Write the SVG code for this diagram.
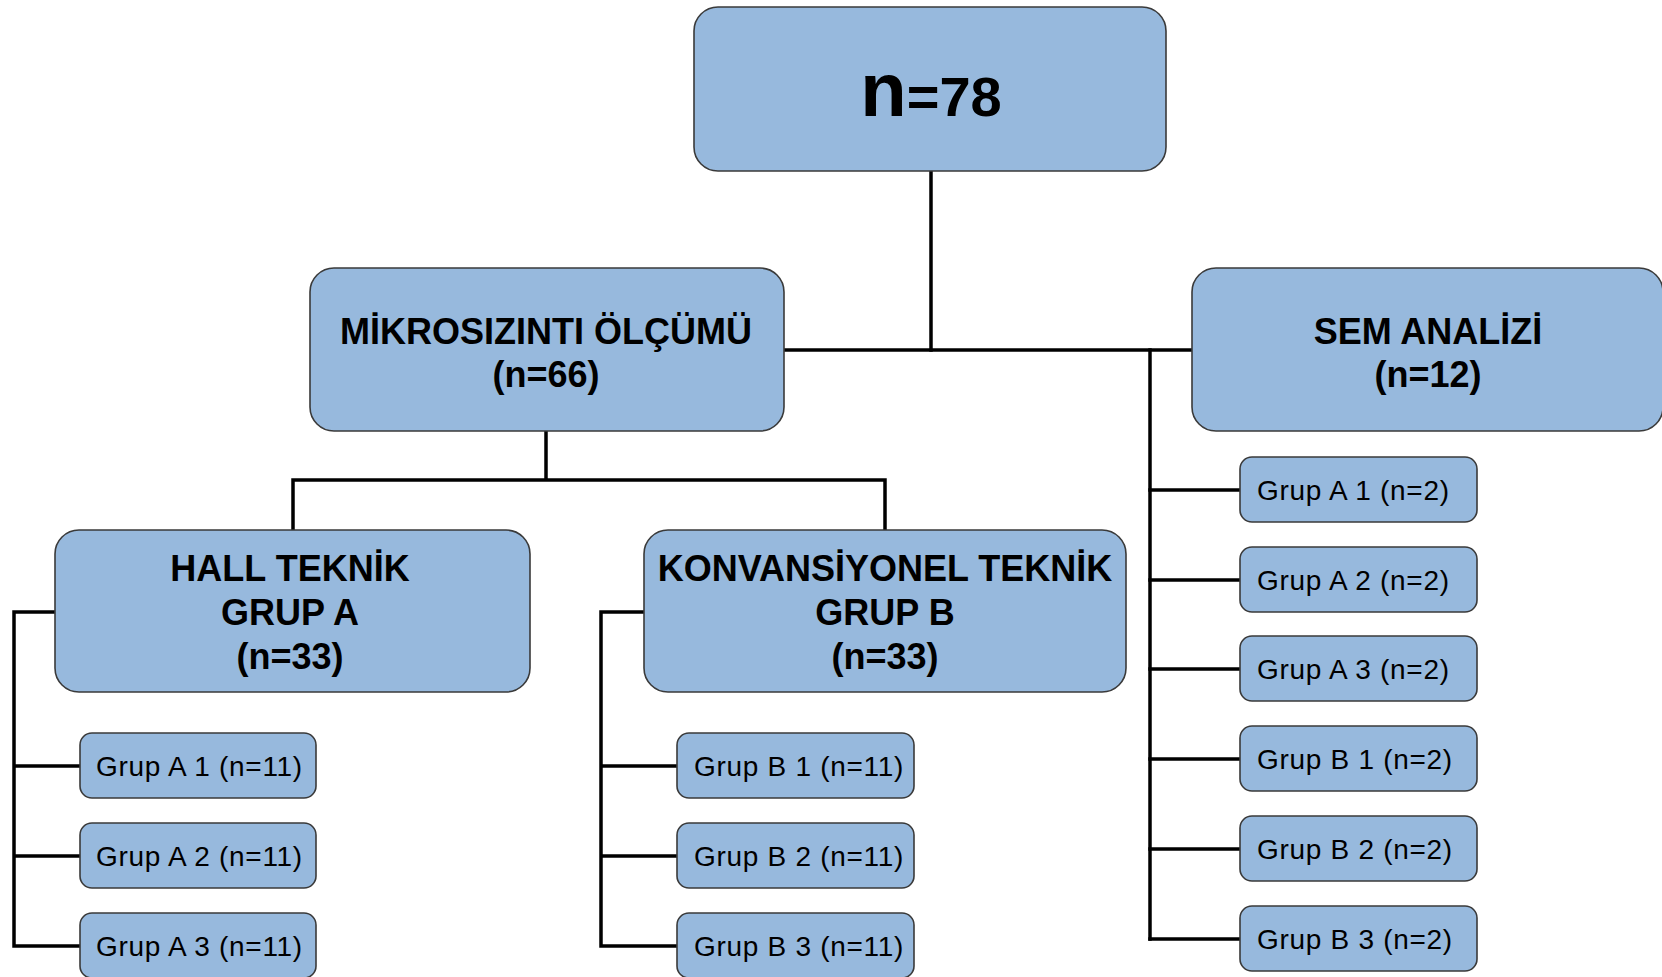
<svg xmlns="http://www.w3.org/2000/svg" width="1662" height="977" viewBox="0 0 1662 977">
<style>
.big{fill:#97B9DD;stroke:#3a3a3a;stroke-width:1.6}
.small{fill:#97B9DD;stroke:#3a3a3a;stroke-width:1.6}
.t{font-family:"Liberation Sans",Arial,sans-serif;font-weight:bold;font-size:36px;fill:#000;text-anchor:middle}
.s{font-family:"Liberation Sans",Arial,sans-serif;font-size:28px;fill:#000;letter-spacing:0.7px}
.c{fill:none;stroke:#000;stroke-width:3.5;stroke-linecap:square;stroke-linejoin:miter}
</style>
<rect width="1662" height="977" fill="#fff"/>
<g id="connectors" class="c">
<path d="M931 171 V350"/>
<path d="M784 350 H1192"/>
<path d="M1150 350 V939"/>
<path d="M1150 490 H1240 M1150 580 H1240 M1150 669 H1240 M1150 759 H1240 M1150 849 H1240 M1150 939 H1240"/>
<path d="M546 431 V480 M293 480 H885 M293 480 V530 M885 480 V530"/>
<path d="M55 612 H14 V946 M14 766 H80 M14 856 H80 M14 946 H80"/>
<path d="M644 612 H601 V946 M601 766 H677 M601 856 H677 M601 946 H677"/>
</g>
<g id="root">
<rect class="big" x="694" y="7" width="472" height="164" rx="24"/>
<text x="931" y="116" class="t"><tspan font-size="76">n</tspan><tspan font-size="56">=78</tspan></text>
</g>
<g id="mikro">
<rect class="big" x="310" y="268" width="474" height="163" rx="24"/>
<text x="546" y="344" class="t">MİKROSIZINTI ÖLÇÜMÜ</text>
<text x="546" y="387" class="t">(n=66)</text>
</g>
<g id="sem">
<rect class="big" x="1192" y="268" width="471" height="163" rx="24"/>
<text x="1428" y="344" class="t">SEM ANALİZİ</text>
<text x="1428" y="387" class="t">(n=12)</text>
</g>
<g id="hall">
<rect class="big" x="55" y="530" width="475" height="162" rx="24"/>
<text x="290" y="581" class="t">HALL TEKNİK</text>
<text x="290" y="625" class="t">GRUP A</text>
<text x="290" y="669" class="t">(n=33)</text>
</g>
<g id="konv">
<rect class="big" x="644" y="530" width="482" height="162" rx="24"/>
<text x="885" y="581" class="t">KONVANSİYONEL TEKNİK</text>
<text x="885" y="625" class="t">GRUP B</text>
<text x="885" y="669" class="t">(n=33)</text>
</g>
<g id="ga1"><rect class="small" x="80" y="733" width="236" height="65" rx="12"/><text x="96" y="776" class="s">Grup A 1 (n=11)</text></g>
<g id="ga2"><rect class="small" x="80" y="823" width="236" height="65" rx="12"/><text x="96" y="866" class="s">Grup A 2 (n=11)</text></g>
<g id="ga3"><rect class="small" x="80" y="913" width="236" height="65" rx="12"/><text x="96" y="956" class="s">Grup A 3 (n=11)</text></g>
<g id="gb1"><rect class="small" x="677" y="733" width="237" height="65" rx="12"/><text x="694" y="776" class="s">Grup B 1 (n=11)</text></g>
<g id="gb2"><rect class="small" x="677" y="823" width="237" height="65" rx="12"/><text x="694" y="866" class="s">Grup B 2 (n=11)</text></g>
<g id="gb3"><rect class="small" x="677" y="913" width="237" height="65" rx="12"/><text x="694" y="956" class="s">Grup B 3 (n=11)</text></g>
<g id="sa1"><rect class="small" x="1240" y="457" width="237" height="65" rx="12"/><text x="1257" y="500" class="s">Grup A 1 (n=2)</text></g>
<g id="sa2"><rect class="small" x="1240" y="547" width="237" height="65" rx="12"/><text x="1257" y="590" class="s">Grup A 2 (n=2)</text></g>
<g id="sa3"><rect class="small" x="1240" y="636" width="237" height="65" rx="12"/><text x="1257" y="679" class="s">Grup A 3 (n=2)</text></g>
<g id="sb1"><rect class="small" x="1240" y="726" width="237" height="65" rx="12"/><text x="1257" y="769" class="s">Grup B 1 (n=2)</text></g>
<g id="sb2"><rect class="small" x="1240" y="816" width="237" height="65" rx="12"/><text x="1257" y="859" class="s">Grup B 2 (n=2)</text></g>
<g id="sb3"><rect class="small" x="1240" y="906" width="237" height="65" rx="12"/><text x="1257" y="949" class="s">Grup B 3 (n=2)</text></g>
</svg>
